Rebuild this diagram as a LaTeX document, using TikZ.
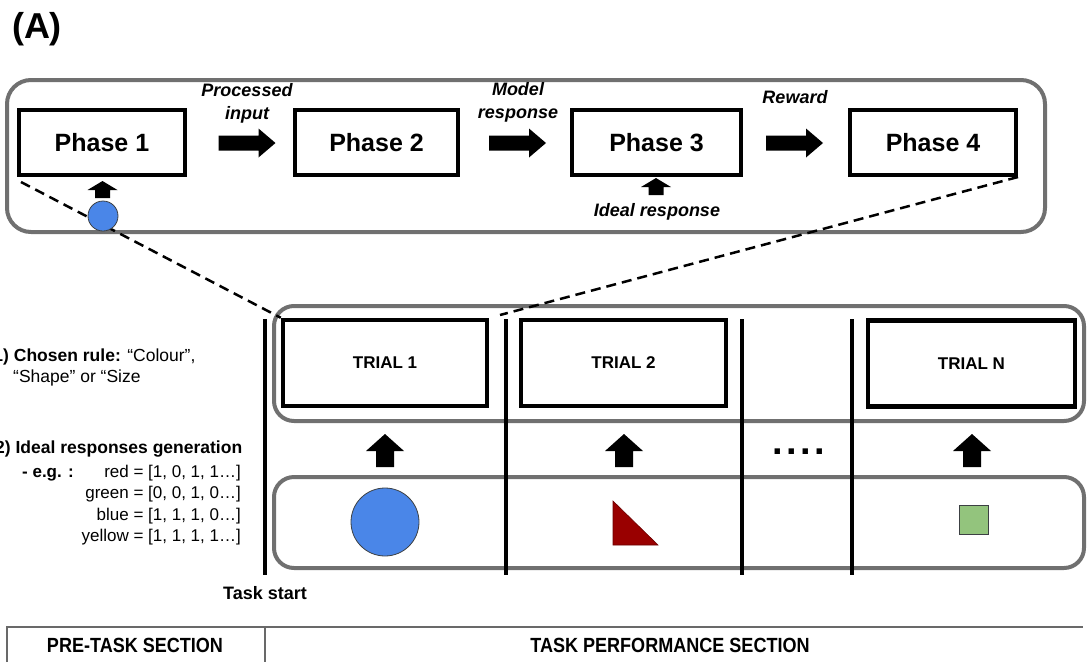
\documentclass[tikz,border=0pt]{standalone}
\usepackage{fontspec}
\setmainfont{Liberation Sans}
\newfontfamily\narrowfont[FakeStretch=0.88]{Liberation Sans}
\usetikzlibrary{calc}
\definecolor{framegray}{RGB}{112,112,112}
\definecolor{tablegray}{RGB}{105,105,105}
\definecolor{shapeblue}{RGB}{74,134,232}
\definecolor{shapered}{RGB}{153,0,0}
\definecolor{shapegreen}{RGB}{147,196,125}
\definecolor{shapeedge}{RGB}{60,64,67}
\tikzset{
  fatright/.pic={\fill (-28.5,-7.5) -- (11.5,-7.5) -- (11.5,-14.5) -- (28.5,0) -- (11.5,14.5) -- (11.5,7.5) -- (-28.5,7.5) -- cycle;},
  smallup/.pic={\fill (-7.5,8.5) -- (-7.5,0.5) -- (-15,0.5) -- (0,-8.5) -- (15,0.5) -- (7.5,0.5) -- (7.5,8.5) -- cycle;},
  bigup/.pic={\fill (-9,16.5) -- (-9,0.5) -- (-19,0.5) -- (0,-16.5) -- (19,0.5) -- (9,0.5) -- (9,16.5) -- cycle;}
}
\begin{document}
\begin{tikzpicture}[x=1pt,y=-1pt,
  phasebox/.style={draw, fill=white, line width=4pt, minimum width=166pt, minimum height=65pt, inner sep=0pt, font=\fontsize{25}{30}\selectfont\bfseries},
  trialbox/.style={draw, fill=white, line width=4.5pt, minimum height=86pt, inner sep=0pt, font=\fontsize{17}{20}\selectfont\bfseries},
  graybox/.style={draw=framegray, line width=4pt, rounded corners=22pt},
  steplabel/.style={font=\fontsize{18}{23}\selectfont\bfseries\itshape, align=center, inner sep=0pt},
  zoomline/.style={dashed, dash pattern=on 10pt off 6pt, line width=2.5pt},
  divider/.style={line width=4pt},
  lefttext/.style={font=\fontsize{17.5}{21}\selectfont, inner sep=0pt},
  datatext/.style={font=\fontsize{17}{21}\selectfont, inner sep=0pt, anchor=base east},
  tabletext/.style={font=\narrowfont\bfseries\fontsize{20.5}{24}\selectfont, inner sep=0pt}
]
\useasboundingbox (0,0) rectangle (1090,662);

% title
\node[font=\fontsize{36}{40}\selectfont\bfseries, inner sep=0pt] (title) at (37,29) {(A)};

% top frame
\draw[graybox, rounded corners=24pt] (7,80) rectangle (1045,232);

% phases
\node[phasebox] (p1) at (102,142.5) {Phase 1};
\node[phasebox, minimum width=163pt] (p2) at (376.5,142.5) {Phase 2};
\node[phasebox, minimum width=169pt] (p3) at (656.5,142.5) {Phase 3};
\node[phasebox] (p4) at (933,142.5) {Phase 4};

\pic (a12) at (247,143) {fatright};
\pic (a23) at (517.5,143) {fatright};
\pic (a34) at (794.5,143) {fatright};

\node[steplabel] (l12) at (247,103.5) {Processed\\input};
\node[steplabel] (l23) at (518,102.5) {Model\\response};
\node[steplabel] (l34) at (795,97) {Reward};

\pic (up1) at (102.5,189.5) {smallup};
\pic (up3) at (656,186.5) {smallup};
\node[steplabel] (ideal) at (657,212) {Ideal response};

% lower frames
\draw[graybox, rounded corners=20pt] (274,306) rectangle (1084,421);
\draw[graybox, rounded corners=20pt] (274,477) rectangle (1084,568);

% trials
\node[trialbox, minimum width=204pt] (t1) at (385,363) {TRIAL 1};
\node[trialbox, minimum width=205pt] (t2) at (623.5,363) {TRIAL 2};
\node[trialbox, minimum width=207pt] (tn) at (971.5,363.5) {TRIAL N};

% zoom lines
\coordinate (zs1) at ($(p1.south west)+(4,5)$);
\coordinate (ze2) at (500,315);
\draw[zoomline] (zs1) -- (t1.north west);
\draw[zoomline] (p4.south east) -- (ze2);

\node[circle, fill=shapeblue, draw=shapeedge, line width=0.8pt, minimum size=30pt, inner sep=0pt] (ball1) at (103,216) {};

% dividers
\draw[divider] (265,319) -- (265,575);
\draw[divider] (506,319) -- (506,575);
\draw[divider] (742,319) -- (742,575);
\draw[divider] (852,319) -- (852,575);

\node[font=\fontsize{18}{22}\selectfont\bfseries, inner sep=0pt] (taskstart) at (265,593) {Task start};

% up arrows
\pic (u1) at (385,450.5) {bigup};
\pic (u2) at (624,450.5) {bigup};
\pic (un) at (972,450.5) {bigup};
\node[font=\fontsize{38}{40}\selectfont\bfseries, inner sep=0pt] (dots) at (799,452) {.\kern3.4pt.\kern3.4pt.\kern3.4pt.};

% stimuli
\node[circle, fill=shapeblue, draw=shapeedge, line width=0.8pt, minimum size=68pt, inner sep=0pt] (ball) at (385,522) {};
\draw[fill=shapered, draw=shapered!70!black, line width=0.6pt] (613,501) -- (613,545) -- (658,545) -- cycle;
\node[draw=shapeedge, fill=shapegreen, minimum size=29pt, inner sep=0pt, line width=0.8pt] (greensq) at (974,519.5) {};

% left text
\node[lefttext, anchor=base west] (rule1) at (-6.7,361) {\textbf{1) Chosen rule:} “Colour”,};
\node[lefttext, anchor=base west] (rule2) at (13,382) {“Shape” or “Size};
\node[lefttext, anchor=base west, font=\fontsize{17.5}{21}\selectfont\bfseries] (ideal2) at (-5,453) {2) Ideal responses generation};
\node[lefttext, anchor=base west, font=\fontsize{17}{21}\selectfont\bfseries] (eg) at (22,477) {- e.g. :};
\node[datatext] (d1) at (241,477) {red = [1, 0, 1, 1…]};
\node[datatext] (d2) at (241,498.5) {green = [0, 0, 1, 0…]};
\node[datatext] (d3) at (241,520) {blue = [1, 1, 1, 0…]};
\node[datatext] (d4) at (241,541.5) {yellow = [1, 1, 1, 1…]};

% table
\draw[tablegray, line width=1.5pt] (7,662) -- (7,627) -- (1083,627);
\draw[tablegray, line width=1.5pt] (265,627) -- (265,662);
\node[tabletext] (pre) at (135,645) {PRE-TASK SECTION};
\node[tabletext] (perf) at (670,645) {TASK PERFORMANCE SECTION};
\end{tikzpicture}
\end{document}
